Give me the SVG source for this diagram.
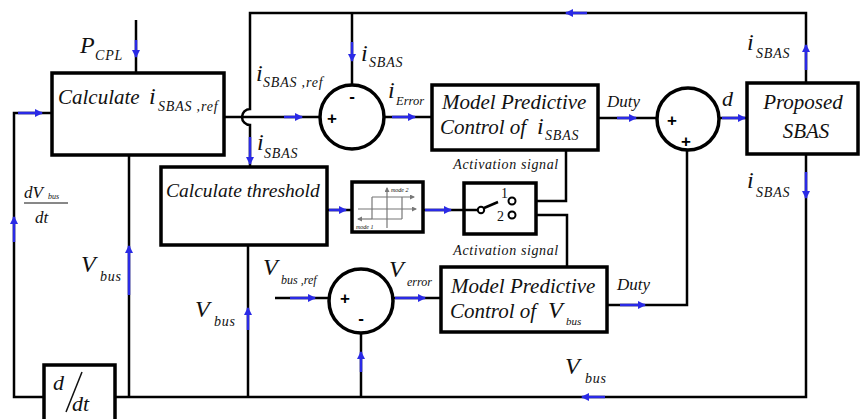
<svg xmlns="http://www.w3.org/2000/svg" width="861" height="419" viewBox="0 0 861 419">
<style>
.box{fill:#fff;stroke:#000;stroke-width:3.5}
.sum{fill:#fff;stroke:#000;stroke-width:3.5}
.ln{fill:none;stroke:#000;stroke-width:2.5}
.ar{fill:none;stroke:#2a2ae6;stroke-width:2.5;marker-end:url(#ah)}
.t{font-family:"Liberation Serif",serif;font-style:italic;fill:#111}
.big{font-size:21px}
.lab{font-size:24px}
.sub{font-size:14px;letter-spacing:0.8px}
.sg{font-family:"Liberation Sans",sans-serif;font-weight:bold;font-size:17px;fill:#000;text-anchor:middle;dominant-baseline:central}
.act{font-size:14px;letter-spacing:0.6px}
.hy{fill:none;stroke:#777;stroke-width:1.2}
</style>
<defs>
<marker id="ah" markerUnits="userSpaceOnUse" markerWidth="10" markerHeight="10" refX="7" refY="4" orient="auto">
<path d="M0,0 L8,4 L0,8 Z" fill="#2a2ae6"/>
</marker>
<marker id="hg" markerUnits="userSpaceOnUse" markerWidth="6" markerHeight="6" refX="4" refY="2.5" orient="auto">
<path d="M0,0 L5,2.5 L0,5 Z" fill="#777"/>
</marker>
</defs>
<rect width="861" height="419" fill="#fff"/>

<g id="connectors">
<path class="ln" d="M250,167 V125 A8,8 0 0 1 250,109 V13 H806 V83"/>
<path class="ln" d="M352,13 V85"/>
<path class="ln" d="M224,117 H320"/>
<path class="ln" d="M384,117 H432"/>
<path class="ln" d="M136,20 V73"/>
<path class="ln" d="M44,397 H14 V113 H52"/>
<path class="ln" d="M115,397 H806 V154"/>
<path class="ln" d="M129,397 V155"/>
<path class="ln" d="M248,397 V245"/>
<path class="ln" d="M361,397 V334"/>
<path class="ln" d="M327,210 H352"/>
<path class="ln" d="M423,210 H464"/>
<path class="ln" d="M515,201 H566 V150"/>
<path class="ln" d="M515,215 H567 V267"/>
<path class="ln" d="M275,298 H330"/>
<path class="ln" d="M393,298 H441"/>
<path class="ln" d="M598,118 H657"/>
<path class="ln" d="M719,118 H747"/>
<path class="ln" d="M607,305 H687 V150"/>
<!-- arrows -->
<path class="ar" d="M136,40 V57"/>
<path class="ar" d="M18,113 H42"/>
<path class="ar" d="M284,117 H302"/>
<path class="ar" d="M352,42 V61"/>
<path class="ar" d="M392,117 H415"/>
<path class="ar" d="M617,118 H636"/>
<path class="ar" d="M722,118 H745"/>
<path class="ar" d="M806,70 V45"/>
<path class="ar" d="M587,13 H566"/>
<path class="ar" d="M806,172 V198"/>
<path class="ar" d="M250,137 V164"/>
<path class="ar" d="M14,242 V217"/>
<path class="ar" d="M129,295 V246"/>
<path class="ar" d="M248,330 V308"/>
<path class="ar" d="M329,210 H346"/>
<path class="ar" d="M425,210 H451"/>
<path class="ar" d="M290,298 H315"/>
<path class="ar" d="M395,298 H425"/>
<path class="ar" d="M361,372 V352"/>
<path class="ar" d="M620,305 H645"/>
<path class="ar" d="M605,397 H582"/>
</g>

<g id="calc_ref">
<rect class="box" x="52" y="73" width="172" height="82"/>
<text class="t big" x="58" y="104">Calculate</text>
<text class="t lab" x="149" y="104">i</text>
<text class="t sub" x="158" y="111">SBAS ,ref</text>
</g>

<g id="sum1">
<circle class="sum" cx="352" cy="117" r="32"/>
<text class="sg" x="352" y="96">-</text>
<text class="sg" x="332" y="118">+</text>
</g>

<g id="mpc_i">
<rect class="box" x="432" y="85" width="166" height="65"/>
<text class="t big" x="442" y="109">Model Predictive</text>
<text class="t big" x="440" y="134">Control of</text>
<text class="t lab" x="537" y="134">i</text>
<text class="t sub" x="545" y="140">SBAS</text>
</g>

<g id="sum2">
<circle class="sum" cx="688" cy="119" r="31"/>
<text class="sg" x="672" y="120">+</text>
<text class="sg" x="686" y="141">+</text>
</g>

<g id="sbas">
<rect class="box" x="747" y="83" width="111" height="71"/>
<text class="t big" x="803" y="109" text-anchor="middle">Proposed</text>
<text class="t big" x="806" y="138" text-anchor="middle">SBAS</text>
</g>

<g id="calc_thr">
<rect class="box" x="161" y="167" width="166" height="78"/>
<text class="t" font-size="19.5" x="166" y="197">Calculate threshold</text>
</g>

<g id="hysteresis">
<rect class="box" x="352" y="182" width="71" height="50"/>
<path class="hy" d="M358,209 H416" marker-end="url(#hg)"/>
<path class="hy" d="M387,228 V188" marker-end="url(#hg)"/>
<path class="hy" d="M372,197 H412 M372,219 H402 M372,197 V219 M402,197 V219"/>
<path class="hy" d="M412,197 H414" marker-end="url(#hg)"/>
<path class="hy" d="M372,219 H358" marker-end="url(#hg)"/>
<text class="t" x="391" y="192" font-size="6">mode 2</text>
<text class="t" x="356" y="229" font-size="6">mode 1</text>
</g>

<g id="switch">
<text class="t act" x="506" y="169" text-anchor="middle">Activation signal</text>
<rect class="box" x="464" y="183" width="72" height="51"/>
<path class="ln" d="M464,210 H478"/>
<circle cx="481" cy="210" r="3.2" fill="#fff" stroke="#000" stroke-width="2"/>
<path class="ln" d="M484,208 L498,202"/>
<circle cx="512" cy="201" r="3.5" fill="#fff" stroke="#000" stroke-width="2"/>
<circle cx="512" cy="215" r="3.5" fill="#fff" stroke="#000" stroke-width="2"/>
<text x="501" y="198" font-family="Liberation Serif,serif" font-size="14" fill="#111">1</text>
<text x="497" y="221" font-family="Liberation Serif,serif" font-size="14" fill="#111">2</text>
<text class="t act" x="506" y="255" text-anchor="middle">Activation signal</text>
</g>

<g id="sum3">
<circle class="sum" cx="361" cy="301" r="32"/>
<text class="sg" x="345" y="298">+</text>
<text class="sg" x="361" y="318">-</text>
</g>

<g id="mpc_v">
<rect class="box" x="441" y="267" width="166" height="65"/>
<text class="t big" x="451" y="293">Model Predictive</text>
<text class="t big" x="450" y="318">Control of</text>
<text class="t lab" x="548" y="318">V</text>
<text class="t" font-size="11" x="566" y="325">bus</text>
</g>

<g id="ddt">
<rect class="box" x="44" y="365" width="71" height="56"/>
<text class="t" font-size="22" x="53" y="390">d</text>
<path d="M82,372 L66,412" stroke="#111" stroke-width="1.5"/>
<text class="t" font-size="22" x="72" y="411">dt</text>
</g>

<g id="labels">
<text class="t lab" x="80" y="53">P</text>
<text class="t sub" x="95" y="60">CPL</text>
<text class="t lab" x="256" y="81">i</text>
<text class="t sub" x="263" y="87">SBAS ,ref</text>
<text class="t lab" x="257" y="150">i</text>
<text class="t sub" x="264" y="158">SBAS</text>
<text class="t lab" x="361" y="61">i</text>
<text class="t sub" x="369" y="67">SBAS</text>
<text class="t lab" x="388" y="98">i</text>
<text class="t" font-size="12.5" x="396" y="105">Error</text>
<text class="t" font-size="17" x="607" y="107">Duty</text>
<text class="t" font-size="22" x="722" y="106">d</text>
<text class="t lab" x="747" y="50">i</text>
<text class="t sub" x="756" y="58">SBAS</text>
<text class="t lab" x="747" y="188">i</text>
<text class="t sub" x="756" y="197">SBAS</text>
<text class="t" font-size="17" x="24" y="198">dV</text>
<text class="t" font-size="8" x="48" y="199">bus</text>
<path d="M24,203 H68" stroke="#111" stroke-width="1"/>
<text class="t" font-size="17" x="35" y="223">dt</text>
<text class="t lab" x="81" y="272">V</text>
<text class="t sub" x="100" y="281">bus</text>
<text class="t lab" x="195" y="317">V</text>
<text class="t sub" x="214" y="326">bus</text>
<text class="t lab" x="263" y="275">V</text>
<text class="t" font-size="12" x="281" y="284">bus ,ref</text>
<text class="t lab" x="389" y="277">V</text>
<text class="t" font-size="12" x="407" y="286">error</text>
<text class="t" font-size="17" x="617" y="290">Duty</text>
<text class="t lab" x="565" y="374">V</text>
<text class="t sub" x="585" y="383">bus</text>
</g>
</svg>
